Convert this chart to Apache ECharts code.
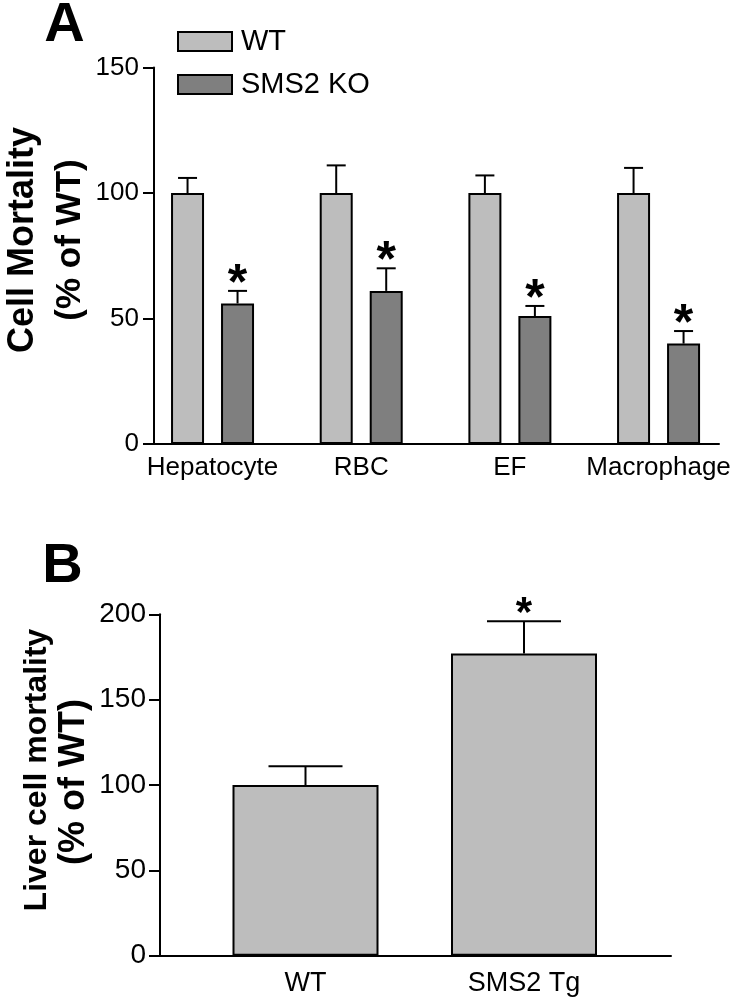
<!DOCTYPE html>
<html>
<head>
<meta charset="utf-8">
<script src="https://cdn.jsdelivr.net/npm/echarts@6/dist/echarts.min.js"></script>
<style>
html,body{margin:0;padding:0;background:#fff;}
#chart{width:734px;height:1001px;}
</style>
</head>
<body>
<div id="chart"></div>
<script>
// ---------- DATA ----------
const categoriesA = ['Hepatocyte', 'RBC', 'EF', 'Macrophage'];
const wtMeanA = [100, 100, 100, 100];
const wtSemA = [6, 11, 7, 10];
const wtSigA = [false, false, false, false];
const koMeanA = [56, 61, 51, 40];
const koSemA = [5, 9, 4, 5];
const koSigA = [true, true, true, true];
const yTicksA = [0, 50, 100, 150];

const categoriesB = ['WT', 'SMS2 Tg'];
const meanB = [100, 177];
const semB = [11, 19];
const sigB = [false, true];
const yTicksB = [0, 50, 100, 150, 200];

const seriesNamesA = ['WT', 'SMS2 KO'];

// ---------- STYLE / LAYOUT ----------
const FONT = 'Liberation Sans, Arial, Helvetica, sans-serif';
const LIGHT = '#bdbdbd';
const DARK = '#7f7f7f';
const LW = 2;
const barWA = 33, gapA = 17, capWA = 19;
const barWB = 146, capWB = 74;

function errData(mean, sem, sig) {
  return mean.map((m, i) => [i, m, m + sem[i], sig[i] ? 1 : 0]);
}

function makeErrRender(offset, capW, starSize, starLift) {
  return function (params, api) {
    const idx = api.value(0);
    const top = api.value(2);
    const base = api.coord([idx, api.value(1)]);
    const tp = api.coord([idx, top]);
    const cx = base[0] + offset;
    const children = [
      { type: 'line', shape: { x1: cx, y1: base[1], x2: cx, y2: tp[1] }, style: { stroke: '#000', lineWidth: LW } },
      { type: 'line', shape: { x1: cx - capW / 2, y1: tp[1], x2: cx + capW / 2, y2: tp[1] }, style: { stroke: '#000', lineWidth: LW } }
    ];
    if (api.value(3)) {
      children.push({
        type: 'text', x: cx, y: tp[1] - starLift,
        style: { text: '*', fontSize: starSize, fontWeight: 'bold', fontFamily: FONT, fill: '#000',
                 align: 'center', verticalAlign: 'middle', textAlign: 'center', textVerticalAlign: 'middle' }
      });
    }
    return { type: 'group', children: children };
  };
}

const hiddenY = (gi) => ({ type: 'value', gridIndex: gi, show: false, min: 0, max: 1 });
const lineX = (gi) => ({
  type: 'value', gridIndex: gi, min: 0, max: 1,
  axisLine: { show: true, onZero: false, lineStyle: { color: '#000', width: LW } },
  axisTick: { show: false }, axisLabel: { show: false }, splitLine: { show: false }
});

const chart = echarts.init(document.getElementById('chart'), null, { renderer: 'canvas' });

const option = {
  backgroundColor: '#fff',
  animation: false,
  textStyle: { fontFamily: FONT },
  legend: {
    data: seriesNamesA,
    orient: 'vertical',
    left: 177, top: 27,
    padding: 0,
    itemWidth: 54, itemHeight: 19, itemGap: 14,
    icon: 'rect',
    textStyle: { fontSize: 29, color: '#000', fontFamily: FONT, lineHeight: 29, padding: [0, 0, 0, 4] }
  },
  grid: [
    { left: 138.2, width: 594.7, top: 67.5, height: 376.5 },   // A bars
    { left: 154, width: 565, top: 67.5, height: 376.5 },       // A axis line
    { left: 196.25, width: 437, top: 614.3, height: 341.4 },   // B bars
    { left: 160, width: 511, top: 614.3, height: 341.4 }       // B axis line
  ],
  xAxis: [
    { type: 'category', gridIndex: 0, data: categoriesA,
      axisLine: { show: false }, axisTick: { show: false },
      axisLabel: { color: '#000', fontSize: 26, fontFamily: FONT, margin: 11, interval: 0 } },
    lineX(1),
    { type: 'category', gridIndex: 2, data: categoriesB,
      axisLine: { show: false }, axisTick: { show: false },
      axisLabel: { color: '#000', fontSize: 27, fontFamily: FONT, margin: 14, interval: 0 } },
    lineX(3)
  ],
  yAxis: [
    { type: 'value', gridIndex: 0, min: yTicksA[0], max: yTicksA[yTicksA.length - 1], interval: yTicksA[1] - yTicksA[0],
      offset: -15.8,
      axisLine: { show: true, onZero: false, lineStyle: { color: '#000', width: LW } },
      axisTick: { show: true, inside: false, length: 11, lineStyle: { color: '#000', width: LW } },
      axisLabel: { color: '#000', fontSize: 26, fontFamily: FONT, margin: 15 },
      splitLine: { show: false } },
    hiddenY(1),
    { type: 'value', gridIndex: 2, min: yTicksB[0], max: yTicksB[yTicksB.length - 1], interval: yTicksB[1] - yTicksB[0],
      offset: 36.25,
      axisLine: { show: true, onZero: false, lineStyle: { color: '#000', width: LW } },
      axisTick: { show: true, inside: false, length: 11, lineStyle: { color: '#000', width: LW } },
      axisLabel: { color: '#000', fontSize: 28, fontFamily: FONT, margin: 14 },
      splitLine: { show: false } },
    hiddenY(3)
  ],
  series: [
    { name: seriesNamesA[0], type: 'bar', xAxisIndex: 0, yAxisIndex: 0, data: wtMeanA,
      barWidth: barWA, barGap: (gapA / barWA * 100) + '%',
      itemStyle: { color: LIGHT, borderColor: '#000', borderWidth: LW } },
    { name: seriesNamesA[1], type: 'bar', xAxisIndex: 0, yAxisIndex: 0, data: koMeanA,
      barWidth: barWA, barGap: (gapA / barWA * 100) + '%',
      itemStyle: { color: DARK, borderColor: '#000', borderWidth: LW } },
    { type: 'custom', xAxisIndex: 0, yAxisIndex: 0, z: 5, clip: false,
      data: errData(wtMeanA, wtSemA, wtSigA),
      renderItem: makeErrRender(-(barWA + gapA) / 2, capWA, 50, 6) },
    { type: 'custom', xAxisIndex: 0, yAxisIndex: 0, z: 5, clip: false,
      data: errData(koMeanA, koSemA, koSigA),
      renderItem: makeErrRender((barWA + gapA) / 2, capWA, 50, 6) },
    { type: 'bar', xAxisIndex: 2, yAxisIndex: 2, data: meanB, barWidth: barWB,
      itemStyle: { color: LIGHT, borderColor: '#000', borderWidth: LW } },
    { type: 'custom', xAxisIndex: 2, yAxisIndex: 2, z: 5, clip: false,
      data: errData(meanB, semB, sigB),
      renderItem: makeErrRender(0, capWB, 42, 7) }
  ],
  graphic: [
    { type: 'text', x: 64.5, y: 26, style: { text: 'A', fontSize: 56, fontWeight: 'bold', fontFamily: FONT, fill: '#000', align: 'center', verticalAlign: 'middle' } },
    { type: 'text', x: 62.5, y: 567, style: { text: 'B', fontSize: 56, fontWeight: 'bold', fontFamily: FONT, fill: '#000', align: 'center', verticalAlign: 'middle' } },
    { type: 'text', x: 23, y: 240, rotation: Math.PI / 2, style: { text: 'Cell Mortality', fontSize: 36, fontWeight: 'bold', fontFamily: FONT, fill: '#000', align: 'center', verticalAlign: 'middle' } },
    { type: 'text', x: 70, y: 240, rotation: Math.PI / 2, style: { text: '(% of WT)', fontSize: 35, fontWeight: 'bold', fontFamily: FONT, fill: '#000', align: 'center', verticalAlign: 'middle' } },
    { type: 'text', x: 37.5, y: 770, rotation: Math.PI / 2, style: { text: 'Liver cell mortality', fontSize: 32, fontWeight: 'bold', fontFamily: FONT, fill: '#000', align: 'center', verticalAlign: 'middle' } },
    { type: 'text', x: 74, y: 782, rotation: Math.PI / 2, style: { text: '(% of WT)', fontSize: 36, fontWeight: 'bold', fontFamily: FONT, fill: '#000', align: 'center', verticalAlign: 'middle' } }
  ]
};
chart.setOption(option);
</script>
</body>
</html>
